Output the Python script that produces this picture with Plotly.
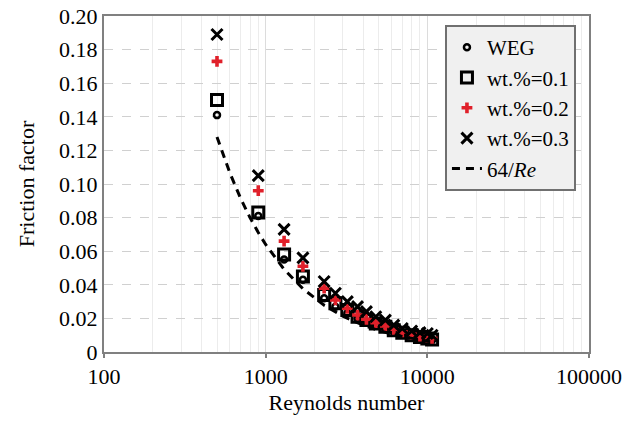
import plotly.graph_objects as go

reynolds = [500, 900, 1300, 1700, 2300, 2700, 3200, 3700, 4200, 4800, 5500, 6200, 7000, 8000, 9000, 10000, 10700]
f_weg = [0.141, 0.081, 0.055, 0.043, 0.032, 0.027, 0.023, 0.020, 0.018, 0.016, 0.014, 0.012, 0.011, 0.0095, 0.0085, 0.0076, 0.0071]
f_w01 = [0.150, 0.083, 0.058, 0.045, 0.034, 0.029, 0.025, 0.021, 0.019, 0.017, 0.015, 0.013, 0.0115, 0.010, 0.009, 0.008, 0.0075]
f_w02 = [0.173, 0.096, 0.066, 0.051, 0.038, 0.031, 0.026, 0.022, 0.0195, 0.0175, 0.0155, 0.0135, 0.012, 0.0105, 0.0095, 0.0087, 0.0081]
f_w03 = [0.189, 0.105, 0.073, 0.056, 0.042, 0.035, 0.030, 0.027, 0.024, 0.021, 0.019, 0.016, 0.014, 0.0125, 0.0115, 0.011, 0.010]
re_line = [500, 600, 700, 800, 900, 1000, 1300, 1700, 2300, 3000, 4000, 5000, 6500, 8000, 10000, 10700]
f_line = [64 / r for r in re_line]

y_ticks = [0, 0.02, 0.04, 0.06, 0.08, 0.10, 0.12, 0.14, 0.16, 0.18, 0.20]
y_ticktext = ["0", "0.02", "0.04", "0.06", "0.08", "0.10", "0.12", "0.14", "0.16", "0.18", "0.20"]
x_ticks = [100, 1000, 10000, 100000]
x_ticktext = ["100", "1000", "10000", "100000"]
x_minor = [m * d for d in (100, 1000, 10000) for m in range(2, 10)]

FONT = "Liberation Serif, Times New Roman, serif"

fig = go.Figure()
fig.add_trace(go.Scatter(x=reynolds, y=f_weg, mode="markers", name="WEG", legendgroup="a",
                         marker=dict(symbol="circle-open", size=6, color="black", line=dict(width=2.5, color="black"))))
fig.add_trace(go.Scatter(x=reynolds, y=f_w01, mode="markers", name="wt.%=0.1", legendgroup="b",
                         marker=dict(symbol="square-open", size=11, color="black", line=dict(width=3, color="black"))))
fig.add_trace(go.Scatter(x=reynolds, y=f_w02, mode="markers", name="wt.%=0.2", legendgroup="c",
                         marker=dict(symbol="cross", size=9, color="#e0202a", line=dict(width=0))))
fig.add_trace(go.Scatter(x=reynolds, y=f_w03, mode="markers", name="wt.%=0.3", legendgroup="d",
                         marker=dict(symbol="x-thin-open", size=11, color="black", line=dict(width=3, color="black"))))
fig.add_trace(go.Scatter(x=re_line, y=f_line, mode="lines", name="64/<i>Re</i>", legendgroup="e",
                         line=dict(color="black", width=3, dash="8px,6px")))

fig.update_layout(
    width=635, height=424,
    margin=dict(l=104, r=46, t=16, b=72, autoexpand=False),
    paper_bgcolor="white", plot_bgcolor="white",
    font=dict(family=FONT, size=22, color="black"),
    showlegend=True,
    legend=dict(x=0.703, y=0.973, xanchor="left", yanchor="top",
                bgcolor="#f0f0f0", bordercolor="#707070", borderwidth=2,
                font=dict(family=FONT, size=21, color="black"),
                tracegroupgap=0, itemwidth=30),
)
fig.update_xaxes(
    type="log", range=[2, 5], automargin=False,
    tickvals=x_ticks, ticktext=x_ticktext,
    ticks="outside", ticklen=4, tickcolor="#808080", tickwidth=2,
    showline=True, linecolor="#808080", linewidth=2, mirror=True,
    showgrid=True, gridcolor="#dcdcdc", gridwidth=1,
    minor=dict(tickvals=x_minor, showgrid=True, gridcolor="#ececec", gridwidth=1, ticks=""),
    tickfont=dict(family=FONT, size=22), ticklabeloverflow="allow",
    title=dict(text="Reynolds number", font=dict(family=FONT, size=22), standoff=6),
    zeroline=False,
)
fig.update_yaxes(
    range=[0, 0.2], automargin=False,
    tickvals=y_ticks, ticktext=y_ticktext,
    ticks="", showline=True, linecolor="#808080", linewidth=2, mirror=True,
    showgrid=True, gridcolor="#d0d0d0", gridwidth=1, griddash="dash",
    tickfont=dict(family=FONT, size=22), ticklabeloverflow="allow",
    title=dict(text="Friction factor", font=dict(family=FONT, size=22), standoff=18),
    zeroline=False,
)

fig.write_html("out.html", config={"displayModeBar": False},
               post_script="document.body.style.margin='0';")
